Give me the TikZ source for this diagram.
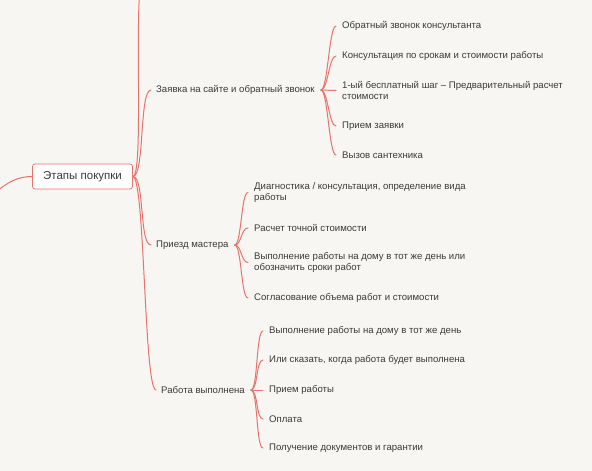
\documentclass[tikz,border=0pt]{standalone}
\usepackage{fontspec}
\setmainfont{Liberation Sans}
\usetikzlibrary{calc}
\definecolor{bgcol}{HTML}{F8F6F2}
\definecolor{linecol}{HTML}{E8726C}
\definecolor{txtcol}{HTML}{3A3A3A}
\tikzset{
  conn/.style={draw=linecol, line width=1pt, line cap=round},
  rootbox/.style={draw=linecol, fill=white, rounded corners=2.5pt, line width=0.8pt,
    minimum width=100pt, minimum height=25pt, inner sep=0pt, text=txtcol,
    font=\fontsize{11.5}{13}\selectfont},
  lvone/.style={anchor=west, inner sep=0pt, text=txtcol, font=\fontsize{9.6}{11}\selectfont},
  leaf/.style={anchor=west, inner sep=0pt, text=txtcol, align=left,
    font=\fontsize{9.6}{11}\selectfont}
}
\newcommand\conncurve[3]{\draw[conn] (#1) .. controls ($(#1)+(#3,0)$) and ($(#2)+(-#3,0)$) .. (#2);}
\begin{document}
\begin{tikzpicture}[x=1pt,y=-1pt]
\fill[bgcol] (0,0) rectangle (592,471);
\useasboundingbox (0,0) rectangle (592,471);
\clip (0,0) rectangle (592,471);

% root
\node[rootbox] (root) at (82.5,176.5) {Этапы покупки};
\coordinate (rootE) at (root.east);
\coordinate (rootW) at (root.west);
\coordinate (up) at (144,-25);
\coordinate (left) at (-20,202);

% level one
\node[lvone] (z) at (156,90) {Заявка на сайте и обратный звонок};
\node[lvone] (p) at (156,245) {Приезд мастера};
\node[lvone] (r) at (161,390) {Работа выполнена};

\coordinate (zin) at ($(z.west)+(-5,0)$);
\coordinate (pin) at ($(p.west)+(-5,0)$);
\coordinate (rin) at ($(r.west)+(-5,0)$);
\coordinate (zout) at ($(z.east)+(6,0)$);
\coordinate (pout) at ($(p.east)+(6,0)$);
\coordinate (rout) at ($(r.east)+(6,0)$);

% children of Заявка
\node[leaf] (z1) at (342,26) {Обратный звонок консультанта};
\node[leaf] (z2) at (342,56) {Консультация по срокам и стоимости работы};
\node[leaf] (z3) at (342,90.5) {1-ый бесплатный шаг – Предварительный расчет\\стоимости};
\node[leaf] (z4) at (342,126) {Прием заявки};
\node[leaf] (z5) at (342,155) {Вызов сантехника};

% children of Приезд
\node[leaf] (p1) at (254,192.5) {Диагностика / консультация, определение вида\\работы};
\node[leaf] (p2) at (254,228) {Расчет точной стоимости};
\node[leaf] (p3) at (254,262.5) {Выполнение работы на дому в тот же день или\\обозначить сроки работ};
\node[leaf] (p4) at (254,298) {Согласование объема работ и стоимости};

% children of Работа
\node[leaf] (r1) at (269,331) {Выполнение работы на дому в тот же день};
\node[leaf] (r2) at (269,360) {Или сказать, когда работа будет выполнена};
\node[leaf] (r3) at (269,390) {Прием работы};
\node[leaf] (r4) at (269,419) {Оплата};
\node[leaf] (r5) at (269,448) {Получение документов и гарантии};

\foreach \n in {z1,z2,z3,z4,z5,p1,p2,p3,p4,r1,r2,r3,r4,r5}{
  \coordinate (\n in) at ($(\n.west)+(-6,0)$);
}

% root connectors
\conncurve{rootE}{up}{12}
\conncurve{rootE}{zin}{12}
\conncurve{rootE}{pin}{12}
\conncurve{rootE}{rin}{12}
\draw[conn] (rootW) .. controls ($(rootW)+(-25,0)$) and ($(left)+(18,-8)$) .. (left);

% level-two connectors
\foreach \n in {z1,z2,z3,z4,z5}{\conncurve{zout}{\n in}{7}}
\foreach \n in {p1,p2,p3,p4}{\conncurve{pout}{\n in}{7}}
\foreach \n in {r1,r2,r3,r4,r5}{\conncurve{rout}{\n in}{7}}
\end{tikzpicture}
\end{document}
